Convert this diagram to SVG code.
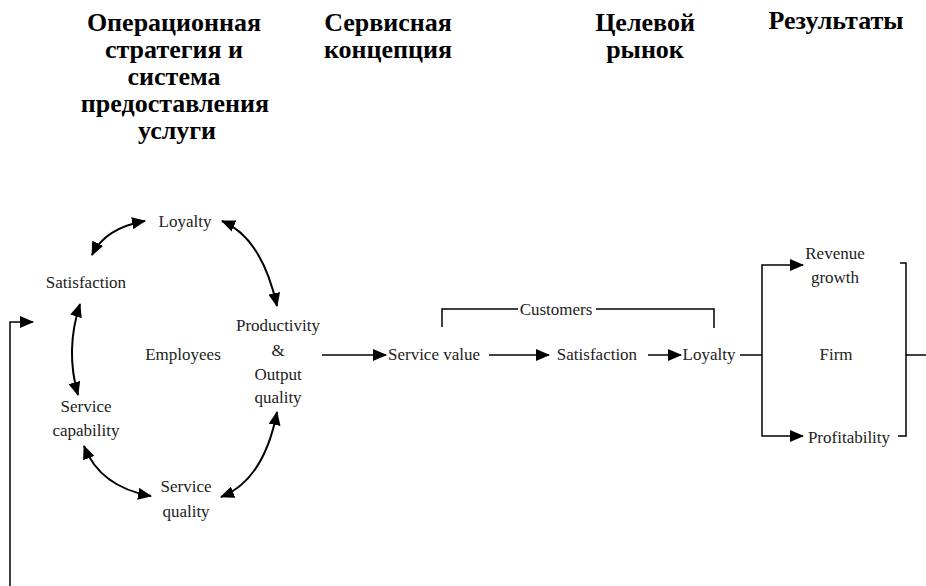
<svg xmlns="http://www.w3.org/2000/svg" width="926" height="586" viewBox="0 0 926 586">
<defs>
<marker id="ah" viewBox="0 0 14 12" refX="13" refY="6" markerWidth="14" markerHeight="12" markerUnits="userSpaceOnUse" orient="auto-start-reverse">
<path d="M0,0 L14,6 L0,12 Z" fill="#000"/>
</marker>
</defs>
<style>
.h{font-family:"Liberation Serif","Times New Roman",serif;font-weight:bold;font-size:26px;fill:#000;text-anchor:middle}
.t{font-family:"Liberation Serif",serif;font-size:17px;fill:#222;text-anchor:middle}
.c{fill:none;stroke:#000;stroke-width:2}
.l{fill:none;stroke:#000;stroke-width:1.5}
</style>
<rect width="926" height="586" fill="#fff"/>
<g id="headers">
<text class="h" x="174" y="31">Операционная</text>
<text class="h" x="174" y="58">стратегия и</text>
<text class="h" x="174" y="85">система</text>
<text class="h" x="175" y="112">предоставления</text>
<text class="h" x="177" y="139">услуги</text>
<text class="h" x="388" y="31">Сервисная</text>
<text class="h" x="388" y="58">концепция</text>
<text class="h" x="645" y="31">Целевой</text>
<text class="h" x="645" y="58">рынок</text>
<text class="h" x="836" y="29">Результаты</text>
</g>
<g id="n-loyalty-emp"><text class="t" x="185" y="227">Loyalty</text></g>
<g id="n-satisfaction-emp"><text class="t" x="86" y="288">Satisfaction</text></g>
<g id="n-employees"><text class="t" x="183" y="360">Employees</text></g>
<g id="n-productivity"><text class="t" x="278" y="331">Productivity</text><text class="t" x="278" y="356">&amp;</text><text class="t" x="278" y="380">Output</text><text class="t" x="278" y="403">quality</text></g>
<g id="n-capability"><text class="t" x="86" y="412">Service</text><text class="t" x="86" y="436">capability</text></g>
<g id="n-servicequality"><text class="t" x="186" y="492">Service</text><text class="t" x="186" y="517">quality</text></g>
<g id="n-servicevalue"><text class="t" x="434" y="360">Service value</text></g>
<g id="n-satisfaction-cust"><text class="t" x="597" y="360">Satisfaction</text></g>
<g id="n-loyalty-cust"><text class="t" x="709" y="360">Loyalty</text></g>
<g id="n-customers"><text class="t" x="556" y="315">Customers</text></g>
<g id="n-revenue"><text class="t" x="835" y="259">Revenue</text><text class="t" x="835" y="283">growth</text></g>
<g id="n-firm"><text class="t" x="836" y="360">Firm</text></g>
<g id="n-profitability"><text class="t" x="849" y="443">Profitability</text></g>
<g id="connectors">
<path class="c" d="M92,255 Q105,228 145,221" marker-start="url(#ah)" marker-end="url(#ah)"/>
<path class="c" d="M222,221 Q262,238 277,306" marker-start="url(#ah)" marker-end="url(#ah)"/>
<path class="c" d="M80,304 Q65,350 78,395" marker-start="url(#ah)" marker-end="url(#ah)"/>
<path class="c" d="M277,412 Q264,480 221,497" marker-start="url(#ah)" marker-end="url(#ah)"/>
<path class="c" d="M84,446 Q100,487 151,496" marker-start="url(#ah)" marker-end="url(#ah)"/>
<path class="l" d="M322,355 H386" marker-end="url(#ah)"/>
<path class="l" d="M489,355 H549" marker-end="url(#ah)"/>
<path class="l" d="M648,355 H681" marker-end="url(#ah)"/>
<path class="l" d="M740,355 H762"/>
<path class="l" d="M803,265 H762 V436 H803" marker-start="url(#ah)" marker-end="url(#ah)"/>
<path class="l" d="M900,263 H906 V436 H898"/>
<path class="l" d="M906,355 H926"/>
<path class="l" d="M442,327 V309 H518"/>
<path class="l" d="M596,309 H714 V328"/>
<path class="l" d="M10,586 V322 H33" marker-end="url(#ah)"/>
</g>
</svg>
